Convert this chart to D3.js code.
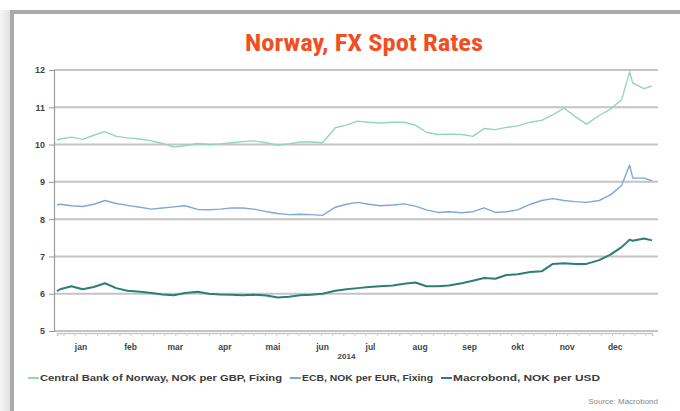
<!DOCTYPE html>
<html>
<head>
<meta charset="utf-8">
<script src="https://cdn.jsdelivr.net/npm/d3@7"></script>
<style>
  body { margin: 0; background: #fff; }
  svg { display: block; font-family: "Liberation Sans", Arial, sans-serif; }
</style>
</head>
<body>
<div id="chart-area"></div>
<script>
/* Norway, FX Spot Rates - 2014 */

const dates = ["2014-01-01", "2014-01-03", "2014-01-10", "2014-01-17", "2014-01-24", "2014-01-31",
	"2014-02-07", "2014-02-14", "2014-02-22", "2014-03-01", "2014-03-08", "2014-03-15", "2014-03-22",
	"2014-03-30", "2014-04-06", "2014-04-13", "2014-04-20", "2014-04-27", "2014-05-04", "2014-05-12",
	"2014-05-19", "2014-05-26", "2014-06-02", "2014-06-09", "2014-06-16", "2014-06-24", "2014-07-01",
	"2014-07-08", "2014-07-15", "2014-07-22", "2014-07-30", "2014-08-06", "2014-08-13", "2014-08-20",
	"2014-08-27", "2014-09-03", "2014-09-11", "2014-09-18", "2014-09-25", "2014-10-02", "2014-10-09",
	"2014-10-16", "2014-10-24", "2014-10-31", "2014-11-07", "2014-11-14", "2014-11-21", "2014-11-28",
	"2014-12-06", "2014-12-13", "2014-12-20", "2014-12-25", "2014-12-27", "2015-01-03", "2015-01-08"]

const nokPerGbp = [10.12, 10.15, 10.2, 10.14, 10.25, 10.35, 10.22, 10.18, 10.15, 10.1, 10.03, 9.93, 9.97,
	10.03, 10.0, 10.02, 10.05, 10.08, 10.1, 10.05, 9.98, 10.02, 10.07, 10.07, 10.05, 10.45, 10.52,
	10.63, 10.6, 10.58, 10.6, 10.6, 10.52, 10.33, 10.27, 10.28, 10.27, 10.22, 10.43, 10.4, 10.46,
	10.5, 10.6, 10.65, 10.8, 10.98, 10.75, 10.55, 10.78, 10.95, 11.2, 11.95, 11.65, 11.5, 11.57]

const nokPerEur = [8.38, 8.4, 8.36, 8.34, 8.4, 8.5, 8.42, 8.37, 8.32, 8.27, 8.3, 8.33, 8.36,
	8.26, 8.25, 8.27, 8.3, 8.3, 8.27, 8.2, 8.15, 8.12, 8.13, 8.12, 8.1, 8.32, 8.4,
	8.45, 8.4, 8.36, 8.38, 8.41, 8.35, 8.25, 8.18, 8.2, 8.17, 8.2, 8.3, 8.18, 8.2,
	8.25, 8.4, 8.5, 8.55, 8.5, 8.47, 8.45, 8.5, 8.65, 8.9, 9.45, 9.1, 9.1, 9.03]

const nokPerUsd = [6.07, 6.12, 6.2, 6.12, 6.18, 6.28, 6.15, 6.08, 6.05, 6.02, 5.98, 5.96, 6.02,
	6.05, 6.0, 5.98, 5.97, 5.96, 5.97, 5.95, 5.9, 5.92, 5.96, 5.97, 6.0, 6.08, 6.12,
	6.15, 6.18, 6.2, 6.22, 6.27, 6.3, 6.2, 6.2, 6.22, 6.28, 6.35, 6.42, 6.4, 6.5,
	6.52, 6.58, 6.6, 6.8, 6.82, 6.8, 6.8, 6.9, 7.05, 7.25, 7.45, 7.42, 7.48, 7.43]

const monthLabels = ["jan", "feb", "mar", "apr", "mai", "jun", "jul", "aug", "sep", "okt", "nov", "dec"]
const yTicks = [5, 6, 7, 8, 9, 10, 11, 12]

const seriesNames = ["Central Bank of Norway, NOK per GBP, Fixing", "ECB, NOK per EUR, Fixing", "Macrobond, NOK per USD"]
const seriesColors = ["#93d6b6", "#7ea8d8", "#2b7f76"]
const seriesWidths = [1.4, 1.4, 2]

const parseDate = d3.timeParse("%Y-%m-%d")
const series = [nokPerGbp, nokPerEur, nokPerUsd].map((vals, i) => ({
	name: seriesNames[i],
	color: seriesColors[i],
	width: seriesWidths[i],
	values: vals.map((v, j) => ({ date: parseDate(dates[j]), value: v }))
}))

/* Canvas */
const CANVAS_WIDTH = 680
const CANVAS_HEIGHT = 411

const $svg = d3.select('#chart-area')
	.append('svg')
	.attr('width', CANVAS_WIDTH)
	.attr('height', CANVAS_HEIGHT)

// frame: grey shadow on the left, grey border
const defs = $svg.append('defs')
const grad = defs.append('linearGradient').attr('id', 'shade')
grad.append('stop').attr('offset', '0%').attr('stop-color', '#f6f6f6')
grad.append('stop').attr('offset', '100%').attr('stop-color', '#e2e2e2')

$svg.append('rect').attr('width', CANVAS_WIDTH).attr('height', CANVAS_HEIGHT).attr('fill', '#fff')
$svg.append('rect').attr('x', 0).attr('y', 10).attr('width', 10).attr('height', CANVAS_HEIGHT - 10).attr('fill', 'url(#shade)')
$svg.append('path')
	.attr('d', `M12,${CANVAS_HEIGHT} V12 H${CANVAS_WIDTH}`)
	.attr('fill', 'none')
	.attr('stroke', '#a8aaac')
	.attr('stroke-width', 4)

/* Title */
$svg.append('text')
	.attr('x', 364)
	.attr('y', 51)
	.attr('text-anchor', 'middle')
	.attr('font-family', '"Liberation Sans Narrow", "Roboto Condensed", "Liberation Sans", sans-serif')
	.attr('font-size', 24)
	.attr('font-weight', 'bold')
	.attr('fill', '#f14e24')
	.attr('textLength', 238)
	.attr('lengthAdjust', 'spacingAndGlyphs')
	.text('Norway, FX Spot Rates')

/* Scene */
const margin = { top: 70, left: 54 }
const width = 604
const height = 261

const $scene = $svg.append('g')
	.attr('transform', `translate(${margin.left}, ${margin.top})`)

/* Scales */
const xScale = d3.scaleTime()
	.domain([parseDate("2014-01-01"), parseDate("2015-01-08")])
	.range([3, 598])

const yScale = d3.scaleLinear()
	.domain([5, 12])
	.range([height, 0])

/* Gridlines */
$scene.append('g')
	.selectAll('line')
	.data(yTicks)
	.enter()
	.append('line')
	.attr('x1', 0)
	.attr('x2', width)
	.attr('y1', d => yScale(d))
	.attr('y2', d => yScale(d))
	.attr('stroke', '#c4c4c4')
	.attr('stroke-width', 2)

/* Axes */
const yAxisCall = d3.axisLeft(yScale)
	.tickValues(yTicks)
	.tickFormat(d3.format('d'))
	.tickSize(5)
	.tickPadding(4)

const $yAxisGroup = $scene.append('g').call(yAxisCall)
$yAxisGroup.select('.domain').attr('stroke', '#9a9a9a').attr('stroke-width', 1.2)
$yAxisGroup.selectAll('.tick line').attr('stroke', '#9a9a9a')
$yAxisGroup.selectAll('.tick text')
	.attr('font-size', 9)
	.attr('font-weight', 'bold')
	.attr('fill', '#444')

const xAxisCall = d3.axisBottom(xScale)
	.ticks(d3.timeWeek.every(1))
	.tickSize(3)
	.tickFormat('')

const $xAxisGroup = $scene.append('g')
	.attr('transform', `translate(0, ${height + 2})`)
	.call(xAxisCall)
$xAxisGroup.select('.domain').attr('stroke', '#c8c8c8').attr('stroke-width', 1.5)
$xAxisGroup.selectAll('.tick line').attr('stroke', '#cfcfcf')

// month labels centred on each month
const months = d3.timeMonth.range(parseDate("2014-01-01"), parseDate("2015-01-01"))
$scene.append('g')
	.selectAll('text')
	.data(months)
	.enter()
	.append('text')
	.attr('x', d => xScale(new Date(d.getFullYear(), d.getMonth(), 16)))
	.attr('y', height + 19)
	.attr('text-anchor', 'middle')
	.attr('font-size', 8.5)
	.attr('font-weight', 'bold')
	.attr('fill', '#444')
	.text((d, i) => monthLabels[i])

$scene.append('text')
	.attr('x', xScale(parseDate("2014-07-01")))
	.attr('y', height + 28)
	.attr('text-anchor', 'middle')
	.attr('font-size', 8)
	.attr('font-weight', 'bold')
	.attr('fill', '#444')
	.text('2014')

/* Lines */
const line = d3.line()
	.x(d => xScale(d.date))
	.y(d => yScale(d.value))

$scene.append('g')
	.selectAll('path')
	.data(series)
	.enter()
	.append('path')
	.attr('d', d => line(d.values))
	.attr('fill', 'none')
	.attr('stroke', d => d.color)
	.attr('stroke-width', d => d.width)
	.attr('stroke-linejoin', 'round')

/* Legend */
const legendWidths = [242, 131, 147]
const $legend = $svg.append('g').attr('transform', 'translate(28, 381)')
let legendX = 0
series.forEach((s, i) => {
	$legend.append('line')
		.attr('x1', legendX)
		.attr('x2', legendX + 11)
		.attr('y1', -3)
		.attr('y2', -3)
		.attr('stroke', s.color)
		.attr('stroke-width', 2)
	$legend.append('text')
		.attr('x', legendX + 12)
		.attr('y', 0)
		.attr('font-size', 9)
		.attr('font-weight', 'bold')
		.attr('fill', '#3a3a3a')
		.attr('textLength', legendWidths[i])
		.attr('lengthAdjust', 'spacingAndGlyphs')
		.text(s.name)
	legendX += 12 + legendWidths[i] + 8
})

/* Source */
$svg.append('text')
	.attr('x', 658)
	.attr('y', 404)
	.attr('text-anchor', 'end')
	.attr('font-size', 8)
	.attr('fill', '#888')
	.text('Source: Macrobond')
</script>
</body>
</html>
